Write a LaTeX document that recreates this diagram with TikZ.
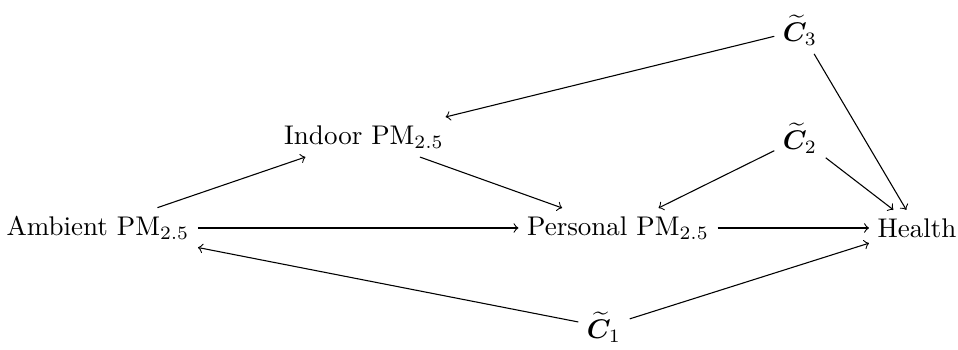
\documentclass[tikz,border=0pt]{standalone}
\usepackage{amsmath,bm}
\begin{document}
\begin{tikzpicture}[x=0.01302cm,y=-0.01302cm,
  var/.style={inner sep=3pt},
  edge/.style={->}]
\useasboundingbox (0,0) rectangle (958,350);
\node[var] (amb) at (98,228) {Ambient PM$_{2.5}$};
\node[var] (ind) at (364,137) {Indoor PM$_{2.5}$};
\node[var] (per) at (618,228) {Personal PM$_{2.5}$};
\node[var] (hea) at (917,228) {Health};
\node[var] (c3) at (800,30) {$\widetilde{\bm{C}}_3$};
\node[var] (c2) at (800,138) {$\widetilde{\bm{C}}_2$};
\node[var] (c1) at (604,327) {$\widetilde{\bm{C}}_1$};
\draw[edge] (amb) -- (ind);
\draw[edge] (amb) -- (per);
\draw[edge] (ind) -- (per);
\draw[edge] (per) -- (hea);
\draw[edge] (c3) -- (ind);
\draw[edge] (c3) -- (hea);
\draw[edge] (c2) -- (per);
\draw[edge] (c2) -- (hea);
\draw[edge] (c1) -- (amb);
\draw[edge] (c1) -- (hea);
\end{tikzpicture}
\end{document}
